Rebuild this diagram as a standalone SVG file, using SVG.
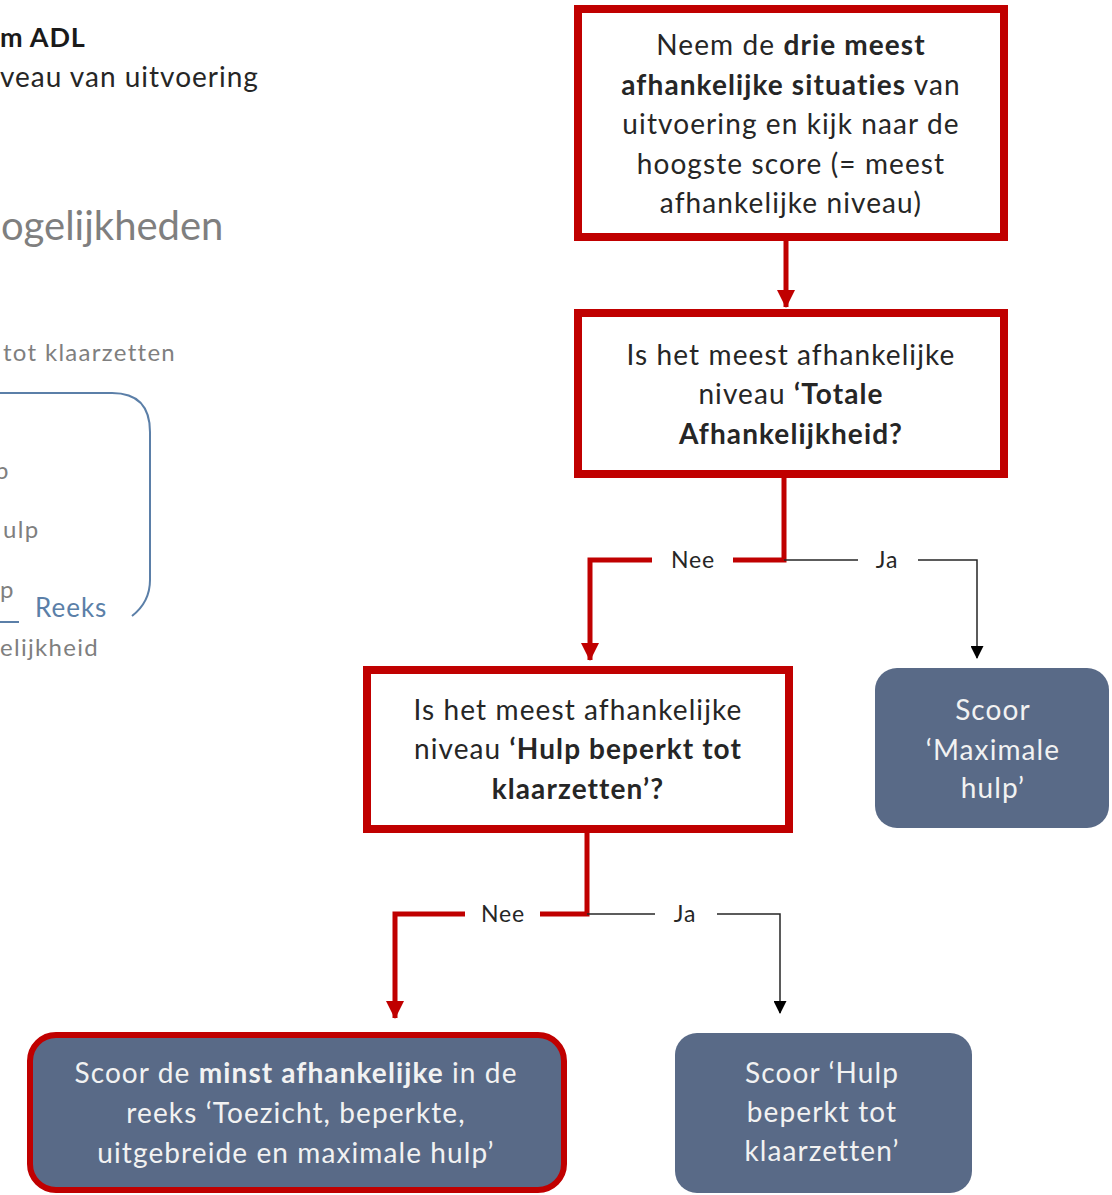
<svg xmlns="http://www.w3.org/2000/svg" width="1112" height="1195" viewBox="0 0 1112 1195">
<defs>
<style>
.t{font-family:Lato,"Open Sans","Liberation Sans",sans-serif;font-size:28px;letter-spacing:1.1px;fill:#262626;text-anchor:middle}
.w{fill:#f2f2f2}
.b{font-weight:bold}
.lbl{font-family:Lato,"Open Sans","Liberation Sans",sans-serif;font-size:23px;letter-spacing:0.8px;fill:#262626;text-anchor:middle}
.bg{font-family:Lato,"Open Sans","Liberation Sans",sans-serif;fill:#7f7f7f}
.sm{font-size:24px;letter-spacing:1.3px}
.box{fill:#ffffff;stroke:#c00000;stroke-width:8}
.score{fill:#596a87}
.red{fill:none;stroke:#c00000;stroke-width:5}
.blk{fill:none;stroke:#262626;stroke-width:1.5}
</style>
<marker id="ar" markerUnits="userSpaceOnUse" markerWidth="18" markerHeight="18" refX="17" refY="9" orient="auto" viewBox="0 0 18 18"><path d="M0,0 L18,9 L0,18 z" fill="#c00000"/></marker>
<marker id="ab" markerUnits="userSpaceOnUse" markerWidth="13" markerHeight="13" refX="12" refY="6.5" orient="auto" viewBox="0 0 13 13"><path d="M0,0 L13,6.5 L0,13 z" fill="#000"/></marker>
</defs>
<rect width="1112" height="1195" fill="#ffffff"/>
<g id="background">
<text x="0" y="47" style="font-family:Lato,'Liberation Sans',sans-serif;font-size:27px;letter-spacing:0.8px;font-weight:bold;fill:#1a1a1a">m ADL</text>
<text x="0" y="87" style="font-family:Lato,'Liberation Sans',sans-serif;font-size:28px;letter-spacing:1px;fill:#262626">veau van uitvoering</text>
<text x="1" y="240" class="bg" style="font-size:40px">ogelijkheden</text>
<text x="3" y="361" class="bg sm">tot klaarzetten</text>
<path d="M0,393 L112,393 Q150,393 150,432 L150,580 Q150,602 132,616" fill="none" stroke="#5b7fa8" stroke-width="2"/>
<text x="-5" y="479" class="bg sm">p</text>
<text x="3" y="538" class="bg sm">ulp</text>
<text x="0" y="598" class="bg sm">p</text>
<line x1="0" y1="622" x2="19" y2="622" stroke="#5b7fa8" stroke-width="2"/>
<text x="35" y="617" style="font-family:Lato,'Liberation Sans',sans-serif;font-size:26px;letter-spacing:1px;fill:#5b7fa8">Reeks</text>
<text x="0" y="656" class="bg sm">elijkheid</text>
</g>
<g id="connectors">
<line class="red" x1="786" y1="241" x2="786" y2="307" marker-end="url(#ar)"/>
<polyline class="red" points="784,478 784,560 733,560"/>
<polyline class="red" points="652,560 590,560 590,660" marker-end="url(#ar)"/>
<line class="blk" x1="784" y1="560" x2="858" y2="560"/>
<polyline class="blk" points="918,560 977,560 977,658" marker-end="url(#ab)"/>
<text class="lbl" x="693" y="568">Nee</text>
<text class="lbl" x="887" y="568">Ja</text>
<polyline class="red" points="587,833 587,914 540,914"/>
<polyline class="red" points="465,914 395,914 395,1018" marker-end="url(#ar)"/>
<line class="blk" x1="587" y1="914" x2="655" y2="914"/>
<polyline class="blk" points="717,914 780,914 780,1013" marker-end="url(#ab)"/>
<text class="lbl" x="503" y="922">Nee</text>
<text class="lbl" x="685" y="922">Ja</text>
</g>
<g id="node-drie-meest">
<rect class="box" x="578" y="9" width="426" height="228"/>
<text class="t" x="791" y="55">Neem de <tspan class="b">drie meest</tspan></text>
<text class="t" x="791" y="95"><tspan class="b">afhankelijke situaties</tspan> van</text>
<text class="t" x="791" y="134">uitvoering en kijk naar de</text>
<text class="t" x="791" y="174">hoogste score (= meest</text>
<text class="t" x="791" y="213">afhankelijke niveau)</text>
</g>
<g id="node-totale">
<rect class="box" x="578" y="313" width="426" height="161"/>
<text class="t" x="791" y="365">Is het meest afhankelijke</text>
<text class="t" x="791" y="404">niveau <tspan class="b">‘Totale</tspan></text>
<text class="t b" x="791" y="444">Afhankelijkheid?</text>
</g>
<g id="node-klaarzetten">
<rect class="box" x="367" y="670" width="422" height="159"/>
<text class="t" x="578" y="720">Is het meest afhankelijke</text>
<text class="t" x="578" y="759">niveau <tspan class="b">‘Hulp beperkt tot</tspan></text>
<text class="t b" x="578" y="799">klaarzetten’?</text>
</g>
<g id="node-maximale">
<rect class="score" x="875" y="668" width="234" height="160" rx="22"/>
<text class="t w" x="993" y="720">Scoor</text>
<text class="t w" x="993" y="760">‘Maximale</text>
<text class="t w" x="993" y="798">hulp’</text>
</g>
<g id="node-minst">
<rect class="score" x="30" y="1035" width="534" height="155" rx="26" stroke="#c00000" stroke-width="6"/>
<text class="t w" x="296" y="1083">Scoor de <tspan class="b">minst afhankelijke</tspan> in de</text>
<text class="t w" x="296" y="1123">reeks ‘Toezicht, beperkte,</text>
<text class="t w" x="296" y="1163">uitgebreide en maximale hulp’</text>
</g>
<g id="node-hulp-beperkt">
<rect class="score" x="675" y="1033" width="297" height="160" rx="22"/>
<text class="t w" x="822" y="1083">Scoor ‘Hulp</text>
<text class="t w" x="822" y="1122">beperkt tot</text>
<text class="t w" x="822" y="1161">klaarzetten’</text>
</g>
</svg>
